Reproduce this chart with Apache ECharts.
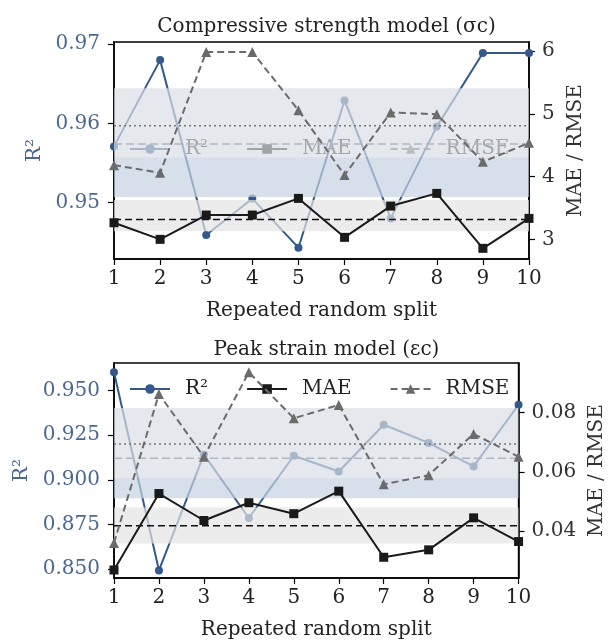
<!DOCTYPE html>
<html>
<head>
<meta charset="utf-8">
<script src="https://cdn.jsdelivr.net/npm/echarts@6/dist/echarts.min.js"></script>
<style>
  html, body { margin: 0; padding: 0; background: #fff; }
  #chart { width: 615px; height: 644px; }
</style>
</head>
<body>
<div id="chart"></div>
<script>
// Repeated random train/test splits
const splits = [1, 2, 3, 4, 5, 6, 7, 8, 9, 10];

// Compressive strength model (σc)
const r2Sigma   = [0.9571, 0.9680, 0.9459, 0.9505, 0.9443, 0.9629, 0.9480, 0.9596, 0.9689, 0.9689];
const maeSigma  = [3.264, 3.000, 3.387, 3.387, 3.652, 3.032, 3.530, 3.732, 2.857, 3.334];
const rmseSigma = [4.182, 4.060, 5.984, 5.984, 5.057, 4.023, 5.020, 4.993, 4.234, 4.537];

// Peak strain model (εc)
const r2Eps   = [0.9603, 0.8492, 0.9141, 0.8786, 0.9135, 0.9047, 0.9309, 0.9207, 0.9075, 0.9421];
const maeEps  = [0.0269, 0.0527, 0.0436, 0.0496, 0.0459, 0.0535, 0.0312, 0.0337, 0.0445, 0.0365];
const rmseEps = [0.0360, 0.0863, 0.0651, 0.0936, 0.0781, 0.0826, 0.0558, 0.0589, 0.0728, 0.0651];

// Shaded bands on the error axis, [low, high]: upper spread, lower spread, MAE spread
const errBandsSigma = [[4.309, 5.407], [3.673, 4.309], [3.130, 3.625]];
const errBandsEps   = [[0.0579, 0.0816], [0.0511, 0.0579], [0.0358, 0.0480]];

// Axis ranges and tick values
const r2RangeSigma  = [0.94287, 0.97029];
const errRangeSigma = [2.687, 6.143];
const r2TicksSigma  = [0.95, 0.96, 0.97];
const errTicksSigma = [3, 4, 5, 6];

const r2RangeEps  = [0.84495, 0.9655];
const errRangeEps = [0.0242, 0.09675];
const r2TicksEps  = [0.850, 0.875, 0.900, 0.925, 0.950];
const errTicksEps = [0.04, 0.06, 0.08];

const FONT = 'DejaVu Serif';
const BLUE = '#34598a';
const BLUE_TXT = '#4a6893';
const INK = '#222';
// translucent fills: whatever sits underneath them shows through faded
const BAND_FILLS = ['rgba(218, 222, 229, 0.7)', 'rgba(198, 209, 227, 0.7)', 'rgba(228, 228, 228, 0.7)'];

const mean = a => a.reduce((s, v) => s + v, 0) / a.length;
const pairs = ys => splits.map((x, i) => [x, ys[i]]);
const span = ys => { const m = mean(ys); return [[splits[0], m], [splits[splits.length - 1], m]]; };

function panelSeries(idx, r2, mae, rmse, bands) {
  const xi = idx, yl = idx * 2, yr = idx * 2 + 1;
  return [
    {
      type: 'line', name: 'R²', xAxisIndex: xi, yAxisIndex: yl, z: 2,
      data: pairs(r2), symbol: 'circle', symbolSize: 8,
      lineStyle: { color: BLUE, width: 2 }, itemStyle: { color: BLUE }
    },
    {
      type: 'line', name: 'R² mean', xAxisIndex: xi, yAxisIndex: yl, z: 2,
      data: span(r2), symbol: 'none',
      lineStyle: { color: '#505a66', width: 1.5, type: [8, 4] }
    },
    {
      type: 'custom', name: 'spread', xAxisIndex: xi, yAxisIndex: yr, z: 5, silent: true,
      data: bands,
      renderItem: (params, api) => {
        const cs = params.coordSys;
        const yHi = api.coord([splits[0], api.value(1)])[1];
        const yLo = api.coord([splits[0], api.value(0)])[1];
        return {
          type: 'rect',
          shape: { x: cs.x, y: yHi, width: cs.width, height: yLo - yHi },
          style: { fill: BAND_FILLS[params.dataIndex] }
        };
      }
    },
    {
      type: 'line', name: 'RMSE mean', xAxisIndex: xi, yAxisIndex: yr, z: 6,
      data: span(rmse), symbol: 'none',
      lineStyle: { color: '#777', width: 1.5, type: [2, 3] }
    },
    {
      type: 'line', name: 'MAE mean', xAxisIndex: xi, yAxisIndex: yr, z: 6,
      data: span(mae), symbol: 'none',
      lineStyle: { color: '#111', width: 1.5, type: [7, 4] }
    },
    {
      type: 'line', name: 'MAE', xAxisIndex: xi, yAxisIndex: yr, z: 7,
      data: pairs(mae), symbol: 'rect', symbolSize: 9,
      lineStyle: { color: '#1a1a1a', width: 2 }, itemStyle: { color: '#1a1a1a' }
    },
    {
      type: 'line', name: 'RMSE', xAxisIndex: xi, yAxisIndex: yr, z: 7,
      data: pairs(rmse), symbol: 'triangle', symbolSize: 10,
      lineStyle: { color: '#6b6b6b', width: 2, type: [7, 4] }, itemStyle: { color: '#6b6b6b' }
    }
  ];
}

const textBase = { fontFamily: FONT, fontSize: 20, color: INK };

function xAxisFor(idx) {
  return {
    gridIndex: idx, type: 'value', min: 1, max: 10, interval: 1,
    name: 'Repeated random split', nameLocation: 'middle', nameGap: 42,
    nameTextStyle: textBase,
    axisLine: { show: true, lineStyle: { color: '#000', width: 1.5 } },
    axisTick: { show: true, length: 6, lineStyle: { color: '#000', width: 1.2 } },
    axisLabel: Object.assign({ margin: 10 }, textBase),
    splitLine: { show: false }
  };
}

function yLeft(idx, range, ticks, digits) {
  return {
    gridIndex: idx, type: 'value', position: 'left', min: range[0], max: range[1],
    name: 'R²', nameLocation: 'middle', nameRotate: 90, nameGap: 68,
    nameTextStyle: Object.assign({}, textBase, { color: BLUE_TXT }),
    axisLine: { show: true, lineStyle: { color: '#000', width: 1.5 } },
    axisTick: { show: true, length: 6, customValues: ticks, lineStyle: { color: '#000', width: 1.2 } },
    axisLabel: Object.assign({}, textBase, {
      color: BLUE_TXT, margin: 14, customValues: ticks,
      formatter: v => Number(v).toFixed(digits)
    }),
    splitLine: { show: false }
  };
}

function yRight(idx, range, ticks, digits) {
  return {
    gridIndex: idx, type: 'value', position: 'right', min: range[0], max: range[1],
    name: 'MAE / RMSE', nameLocation: 'middle', nameRotate: 90, nameGap: 36,
    nameTextStyle: Object.assign({}, textBase, { color: '#333' }),
    axisLine: { show: true, lineStyle: { color: '#000', width: 1.5 } },
    axisTick: { show: true, length: 6, customValues: ticks, lineStyle: { color: '#000', width: 1.2 } },
    axisLabel: Object.assign({}, textBase, {
      color: '#333', margin: 13, customValues: ticks,
      formatter: v => Number(v).toFixed(digits)
    }),
    splitLine: { show: false }
  };
}

const legendBase = {
  data: ['R²', 'MAE', 'RMSE'], left: 129, padding: 0, itemWidth: 40, itemHeight: 12, itemGap: 38,
  z: 1, selectedMode: false,
  textStyle: Object.assign({}, textBase, { padding: [0, 0, 0, 10] })
};

const chart = echarts.init(document.getElementById('chart'), null, { renderer: 'canvas' });
chart.setOption({
  animation: false,
  backgroundColor: '#fff',
  title: [
    { text: 'Compressive strength model (σc)', left: 321.5, top: 12, textAlign: 'center',
      textStyle: Object.assign({}, textBase, { fontWeight: 'normal' }) },
    { text: 'Peak strain model (εc)', left: 321.5, top: 335, textAlign: 'center',
      textStyle: Object.assign({}, textBase, { fontWeight: 'normal' }) }
  ],
  legend: [
    Object.assign({}, legendBase, { top: 139 }),
    Object.assign({}, legendBase, { top: 379 })
  ],
  grid: [
    { left: 114, top: 42, width: 415, height: 217, show: true, borderColor: '#000', borderWidth: 1.5, backgroundColor: 'transparent' },
    { left: 114, top: 363, width: 415, height: 215, show: true, borderColor: '#000', borderWidth: 1.5, backgroundColor: 'transparent' }
  ],
  xAxis: [xAxisFor(0), xAxisFor(1)],
  yAxis: [
    yLeft(0, r2RangeSigma, r2TicksSigma, 2),
    yRight(0, errRangeSigma, errTicksSigma, 0),
    yLeft(1, r2RangeEps, r2TicksEps, 3),
    yRight(1, errRangeEps, errTicksEps, 2)
  ],
  series: [].concat(
    panelSeries(0, r2Sigma, maeSigma, rmseSigma, errBandsSigma),
    panelSeries(1, r2Eps, maeEps, rmseEps, errBandsEps)
  )
});
</script>
</body>
</html>
